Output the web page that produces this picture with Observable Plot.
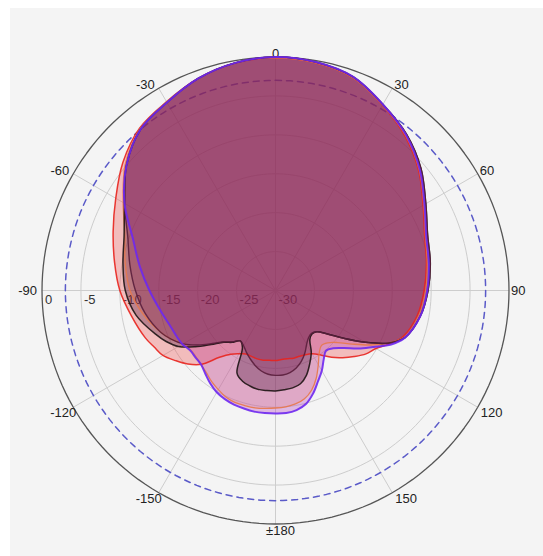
<!DOCTYPE html>
<html><head><meta charset="utf-8">
<script src="https://cdn.jsdelivr.net/npm/d3@7"></script>
<script src="https://cdn.jsdelivr.net/npm/@observablehq/plot@0.6"></script>
<style>
html,body{margin:0;padding:0;background:#fff;}
#wrap{position:relative;width:543px;height:556px;overflow:hidden;}
#panel{position:absolute;left:10px;top:8px;right:0;bottom:0;background:#f4f4f4;}
#chart{position:absolute;left:0;top:0;}
#chart svg{background:transparent;overflow:visible;}
</style></head><body><div id="wrap"><div id="panel"></div><div id="chart"></div></div>
<script>
// ---- data ----
const angles = [-175,-170,-165,-160,-155,-150,-145,-140,-135,-130,-125,-120,-115,-110,-100,-90,-80,-70,-60,-50,-40,-30,-20,-10,0,10,20,30,40,50,60,70,80,90,100,110,115,120,125,130,135,140,145,150,155,160,165,170,175,180];

const redDb = [-21.0,-20.9,-20.9,-21.0,-21.0,-20.6,-20.0,-18.8,-16.6,-15.3,-14.3,-13.3,-12.8,-12.2,-11.2,-10.0,-9.0,-7.8,-6.3,-4.4,-2.8,-2.0,-1.0,-0.3,-0.1,-0.3,-0.9,-2.5,-4.1,-6.0,-8.1,-9.6,-10.3,-10.9,-11.5,-12.6,-13.8,-15.1,-15.8,-16.8,-17.8,-18.8,-19.9,-20.6,-20.9,-21.0,-21.0,-21.1,-21.1,-21.0];

const purpleDb = [-14.2,-14.2,-14.3,-14.4,-14.6,-14.9,-15.4,-16.0,-16.5,-16.6,-16.6,-16.2,-16.0,-15.8,-15.0,-13.8,-12.3,-10.5,-7.6,-5.0,-3.0,-2.1,-1.0,-0.3,0.0,-0.2,-0.8,-2.4,-3.9,-5.8,-7.9,-9.4,-10.0,-10.5,-11.1,-12.3,-13.6,-15.5,-17.0,-18.5,-19.5,-19.9,-19.2,-18.1,-17.1,-15.9,-14.9,-14.4,-14.2,-14.2];

const orangeDb = [-14.8,-14.7,-14.7,-14.7,-14.9,-15.3,-15.7,-16.2,-16.5,-16.7,-16.7,-16.3,-15.2,-14.3,-12.7,-11.3,-10.4,-9.4,-7.4,-4.8,-2.9,-2.0,-1.0,-0.3,-0.1,-0.3,-0.9,-2.5,-4.0,-5.9,-8.0,-9.5,-10.2,-10.7,-11.3,-12.4,-14.0,-16.0,-18.0,-19.6,-20.5,-20.8,-20.2,-19.0,-17.6,-16.4,-15.6,-15.2,-15.0,-14.9];

const blackDb = [-17.1,-17.1,-17.3,-17.6,-18.3,-21.5,-22.1,-21.3,-20.6,-19.2,-17.4,-15.6,-14.5,-13.6,-11.8,-10.7,-10.1,-9.3,-7.6,-5.0,-3.0,-2.1,-1.0,-0.3,0.0,-0.2,-0.8,-2.4,-3.8,-5.6,-7.7,-9.2,-9.8,-10.4,-11.1,-12.3,-14.0,-16.7,-19.3,-21.3,-22.5,-22.7,-22.3,-20.8,-19.6,-18.4,-17.6,-17.3,-17.2,-17.1];

const maroonDb = [-19.2,-19.5,-20.0,-20.6,-21.2,-21.8,-22.1,-21.4,-20.7,-19.4,-17.8,-16.3,-15.2,-14.3,-13.0,-12.0,-11.0,-9.8,-7.6,-5.0,-3.0,-2.1,-1.0,-0.3,0.0,-0.2,-0.8,-2.4,-3.8,-5.6,-7.7,-9.2,-9.8,-10.4,-11.1,-12.3,-14.0,-16.7,-19.3,-21.3,-22.5,-22.8,-22.6,-22.0,-21.1,-20.3,-19.7,-19.3,-19.1,-19.1];

const ringDb = [-25,-20,-15,-10,-5];
const outerDb = [0];
const halfPowerDb = [-3];
const dbTicks = [0,-5,-10,-15,-20,-25,-30];
const spokeAngles = [0,30,60,90,120,150,180,210,240,270,300,330];
const angleTicks = [0,30,60,90,120,150,180,-150,-120,-90,-60,-30];
const angleLabels = ["0","30","60","90","120","150","±180","-150","-120","-90","-60","-30"];

// ---- styles ----
const seriesStyle = [
  {key:"red",    db:redDb,    fill:"#f03c3c", fo:0.30, stroke:"#e8231e", sw:1.5},
  {key:"purple", db:purpleDb, fill:"#b43cbe", fo:0.33, stroke:"#6e28f0", sw:2},
  {key:"orange", db:orangeDb, fill:"#e66e5a", fo:0.20, stroke:"#e8784a", sw:1.3},
  {key:"black",  db:blackDb,  fill:"#3c0028", fo:0.30, stroke:"#1e1414", sw:1.5},
  {key:"maroon", db:maroonDb, fill:"#78144a", fo:0.25, stroke:"#5a1e3c", sw:1.4}
];
const strokeOrder = ["red","orange","black","maroon","purple"];

const W=543, H=556, K=7.783, CX=275, CY=290, D=32;
const rad = a => a*Math.PI/180;
const px = d => (d.db+30)*Math.sin(rad(d.a));
const py = d => (d.db+30)*Math.cos(rad(d.a));

const seriesPts = s => angles.map((a,i)=>({a, db:s.db[i]}));
const circlePts = dbs => dbs.flatMap(db => d3.range(0,360,2).map(a=>({a, db})));

const FONT = "Liberation Sans, Arial, sans-serif";
const angleData = angleTicks.map((a,i)=>({a, db:0, label:angleLabels[i]}));
function angleText(f, o){
  return Plot.text(angleData.filter(f), {x:px, y:py, text:"label", fontSize:13, fill:"#222", fontFamily:FONT, ...o});
}

const marks = [
  Plot.line(circlePts(ringDb), {x:px, y:py, z:"db", curve:"linear-closed", stroke:"#cdcdcd", strokeWidth:1}),
  Plot.link(spokeAngles, {x1:0, y1:0, x2:a=>30*Math.sin(rad(a)), y2:a=>30*Math.cos(rad(a)), stroke:"#cdcdcd", strokeWidth:1}),
  Plot.line(circlePts(halfPowerDb), {x:px, y:py, curve:"linear-closed", stroke:"#5a5ac8", strokeWidth:1.5, strokeDasharray:"6,5"}),
  Plot.line(circlePts(outerDb), {x:px, y:py, curve:"linear-closed", stroke:"#555", strokeWidth:1.3}),
  Plot.text(dbTicks, {x:d=>-(d+30), y:0, text:d=>String(d), textAnchor:"start", lineAnchor:"top", dx:3, dy:4, fontSize:13, fill:"#333", fontFamily:FONT}),
  angleText(d=>d.a===0, {textAnchor:"middle", lineAnchor:"bottom", dy:1}),
  angleText(d=>d.a===30||d.a===60, {textAnchor:"start", lineAnchor:"bottom", dx:2, dy:1}),
  angleText(d=>d.a===90, {textAnchor:"start", lineAnchor:"middle", dx:2}),
  angleText(d=>d.a===120||d.a===150, {textAnchor:"start", lineAnchor:"top", dx:3, dy:1}),
  angleText(d=>d.a===180, {textAnchor:"middle", lineAnchor:"top", dx:5, dy:2}),
  angleText(d=>d.a===-120||d.a===-150, {textAnchor:"end", lineAnchor:"top", dx:3, dy:1}),
  angleText(d=>d.a===-90, {textAnchor:"end", lineAnchor:"middle", dx:-5}),
  angleText(d=>d.a===-30||d.a===-60, {textAnchor:"end", lineAnchor:"bottom", dx:-4, dy:1}),
  ...seriesStyle.map(s => Plot.line(seriesPts(s), {x:px, y:py, curve:"catmull-rom-closed", fill:s.fill, fillOpacity:s.fo, stroke:"none"})),
  ...strokeOrder.map(k => { const s = seriesStyle.find(t=>t.key===k); return Plot.line(seriesPts(s), {x:px, y:py, curve:"catmull-rom-closed", stroke:s.stroke, strokeWidth:s.sw, strokeOpacity:0.9}); })
];

const chart = Plot.plot({
  width:W, height:H,
  marginLeft: CX - D*K, marginRight: W - CX - D*K,
  marginTop: CY - D*K, marginBottom: H - CY - D*K,
  x:{domain:[-D,D], axis:null},
  y:{domain:[-D,D], axis:null},
  style:{background:"transparent", overflow:"visible"},
  marks
});
document.getElementById("chart").appendChild(chart);
</script>
</body></html>
